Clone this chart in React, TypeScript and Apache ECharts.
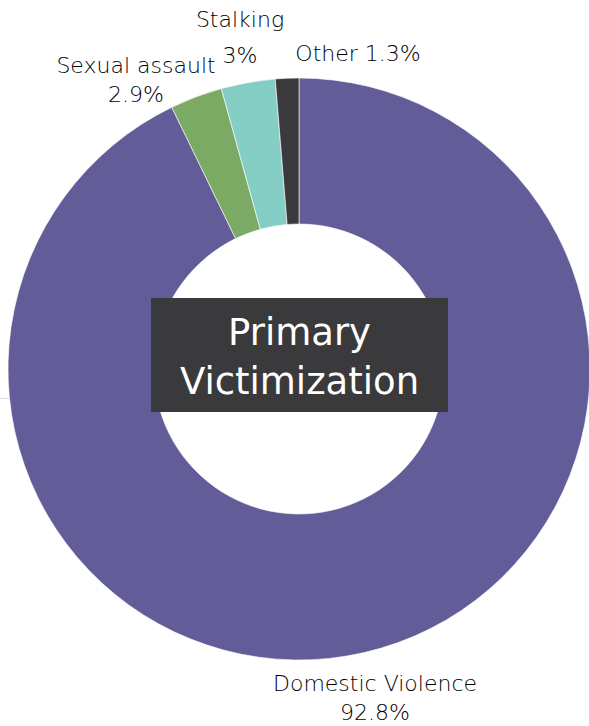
import React, { useEffect, useRef } from "react";
import * as echarts from "echarts";

const categories = ["Domestic Violence", "Sexual assault", "Stalking", "Other"];
const values = [92.8, 2.9, 3, 1.3];
const colors = ["#625c98", "#7aaa64", "#85cec5", "#3a3a3c"];
const centerTitle = ["Primary", "Victimization"];

export default function App() {
  const ref = useRef<HTMLDivElement>(null);
  useEffect(() => {
    if (!ref.current) return;
    const chart = echarts.init(ref.current, null, { renderer: "svg" });
    const labelPos = [
      { x: 375, y: 698, lh: 29 },
      { x: 136, y: 80, lh: 29 },
      { x: 240, y: 37, lh: 36 },
      { x: 358, y: 53, lh: 29 },
    ];
    chart.setOption({
      animation: false,
      backgroundColor: "#ffffff",
      series: [
        {
          type: "pie",
          center: [299, 369],
          radius: [145, 291],
          startAngle: 90,
          clockwise: true,
          avoidLabelOverlap: false,
          labelLine: { show: false },
          itemStyle: { borderColor: "#ffffff", borderWidth: 0.6 },
          emphasis: { disabled: true },
          label: {
            show: true,
            position: "outside",
            fontFamily: "DejaVu Sans",
            fontWeight: 300,
            fontSize: 22,
            color: "#000000",
            align: "center",
            formatter: (p: any) =>
              p.dataIndex === 3 ? `${p.name} ${p.value}%` : `${p.name}\n${p.value}%`,
          },
          labelLayout: (p: any) => {
            const lp = labelPos[p.dataIndex];
            return {
              x: lp.x,
              y: lp.y,
              align: "center",
              verticalAlign: "middle",
              hideOverlap: false,
            };
          },
          data: categories.map((c, i) => ({
            name: c,
            value: values[i],
            itemStyle: { color: colors[i] },
            label: { lineHeight: labelPos[i].lh },
          })),
        },
      ],
      graphic: [
        {
          type: "line",
          shape: { x1: 0, y1: 398.5, x2: 9, y2: 398.5 },
          style: { stroke: "#dddddd", lineWidth: 1 },
          z: 0,
        },
        {
          type: "rect",
          shape: { x: 151, y: 298, width: 297, height: 114 },
          style: { fill: "#3a3a3c" },
          z: 10,
        },
        {
          type: "text",
          x: 299.5,
          y: 357,
          z: 11,
          style: {
            text: centerTitle.join("\n"),
            fill: "#ffffff",
            fontFamily: "DejaVu Sans",
            fontSize: 37,
            lineHeight: 49,
            align: "center",
            verticalAlign: "middle",
          },
        },
      ],
    });
    return () => chart.dispose();
  }, []);
  return (
    <div
      ref={ref}
      style={{ position: "fixed", left: 0, top: 0, width: 589, height: 726 }}
    />
  );
}
